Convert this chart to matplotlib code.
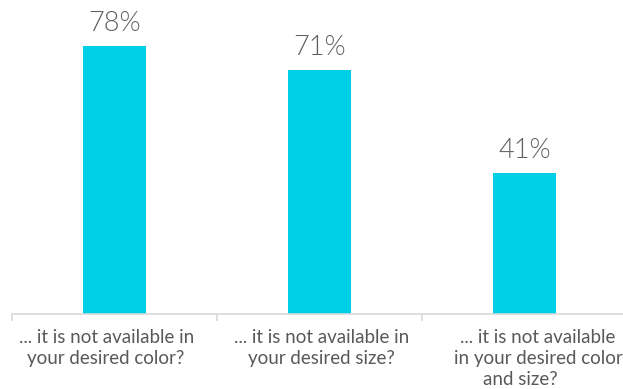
import matplotlib
matplotlib.use("Agg")
import matplotlib.pyplot as plt
from matplotlib.ticker import FixedLocator
from matplotlib.transforms import ScaledTranslation, blended_transform_factory

categories = [["... it is not available in", "your desired color?"],
              ["... it is not available in", "your desired size?"],
              ["... it is not available", "in your desired color", "and size?"]]
values = [78, 71, 41]
labels = ["78%", "71%", "41%"]

# layout: horizontal shift (px) of each category label line
line_shift_px = [[-8, -9], [2, 2], [13, 14, -4]]

plt.rcParams['font.family'] = ['Lato', 'DejaVu Sans']

fig = plt.figure(figsize=(6.23, 3.89), dpi=100)
ax = fig.add_axes([12/623, 75/389, 615/623, 314/389])
x = list(range(len(values)))
ax.bar(x, values, width=0.31, color="#00cfe8", zorder=2)
ax.set_xlim(-0.5, 2.5)
ax.set_ylim(0, 91.4)
for xi, v, lab in zip(x, values, labels):
    ax.annotate(lab, (xi, v), xytext=(0, 11), textcoords="offset points",
                ha="center", va="baseline", fontsize=19.5, color="#5f5f5f",
                fontweight=300)

for s in ["top", "right", "left"]:
    ax.spines[s].set_visible(False)
ax.spines["bottom"].set_color("#d9d9d9")
ax.spines["bottom"].set_linewidth(1.2)
ax.set_yticks([])
ax.xaxis.set_major_locator(FixedLocator([-0.5, 0.5, 1.5, 2.5]))
ax.set_xticklabels([])
ax.tick_params(axis="x", which="major", length=5, color="#d9d9d9", width=1.2)

trans = blended_transform_factory(ax.transData, ax.transAxes)
for xi, lines, shifts in zip(x, categories, line_shift_px):
    for j, (line, sh) in enumerate(zip(lines, shifts)):
        t = trans + ScaledTranslation(sh / 100, (-29 - 21 * j) / 100, fig.dpi_scale_trans)
        ax.text(xi, 0, line, transform=t, ha="center", va="baseline",
                fontsize=13.5, color="#595959")

fig.savefig("out.png", dpi=100)
